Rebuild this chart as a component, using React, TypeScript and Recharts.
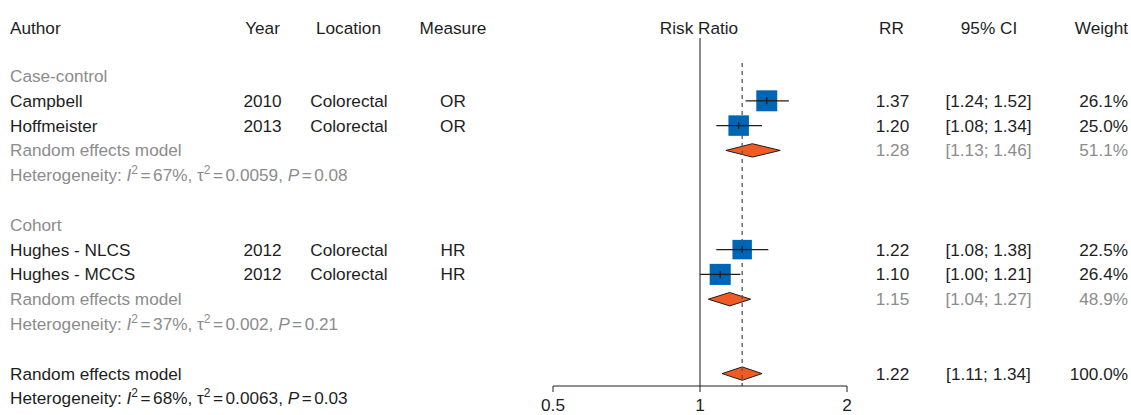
import React from "react";
import {
  ComposedChart,
  XAxis,
  YAxis,
  Scatter,
  ErrorBar,
  Area,
  ReferenceLine,
} from "recharts";

// ---- data ----
const studyAuthors = ["Campbell", "Hoffmeister", "Hughes - NLCS", "Hughes - MCCS"];
const studyYears = ["2010", "2013", "2012", "2012"];
const studyLocations = ["Colorectal", "Colorectal", "Colorectal", "Colorectal"];
const studyMeasures = ["OR", "OR", "HR", "HR"];
const studyRR = [1.37, 1.2, 1.22, 1.1];
const studyLower = [1.24, 1.08, 1.08, 1.0];
const studyUpper = [1.52, 1.34, 1.38, 1.21];
const studyWeight = [26.1, 25.0, 22.5, 26.4];
const studyRows = [3, 4, 9, 10];

const pooledRR = [1.28, 1.15, 1.22];
const pooledLower = [1.13, 1.04, 1.11];
const pooledUpper = [1.46, 1.27, 1.34];
const pooledWeight = ["51.1%", "48.9%", "100.0%"];
const pooledRows = [5, 11, 14];
const pooledGrey = [true, true, false];

const groupNames = ["Case-control", "Cohort"];
const groupRows = [2, 8];

const hetI2 = ["67%", "37%", "68%"];
const hetTau2 = ["0.0059", "0.002", "0.0063"];
const hetP = ["0.08", "0.21", "0.03"];
const hetRows = [6, 12, 15];

const xTicks = [0.5, 1, 2];
const overallRR = 1.22;

// ---- layout ----
const W = 1131;
const H = 415;
const PLOT_TOP = 14;
const ROW_H = 24.8;
const FONT = "'Liberation Sans', Arial, Helvetica, sans-serif";
const FS = 17.2;
const BLACK = "#1e1e1e";
const GREY = "#8c8c8c";
const BLUE = "#0066b3";
const ORANGE = "#f15a22";

const rowCenter = (r: number) => PLOT_TOP + (r + 0.5) * ROW_H;
const fmt = (v: number) => v.toFixed(2);

const studyData = studyRR.map((rr, i) => ({
  x: rr,
  row: studyRows[i],
  weight: studyWeight[i],
  err: [rr - studyLower[i], studyUpper[i] - rr],
}));

const diamonds = pooledRR.map((rr, i) => [
  { x: pooledLower[i], band: [pooledRows[i], pooledRows[i]] },
  { x: rr, band: [pooledRows[i] - 0.27, pooledRows[i] + 0.27] },
  { x: pooledUpper[i], band: [pooledRows[i], pooledRows[i]] },
]);

function Cell({
  row,
  x,
  align = "left",
  color = BLACK,
  dy = 0,
  children,
}: {
  row: number;
  x: number;
  align?: "left" | "center" | "right";
  color?: string;
  dy?: number;
  children: React.ReactNode;
}) {
  const w = 240;
  const left = align === "left" ? x : align === "center" ? x - w / 2 : x - w;
  return (
    <div
      style={{
        position: "absolute",
        left,
        top: rowCenter(row) - 10 + dy,
        width: w,
        height: 20,
        lineHeight: "20px",
        textAlign: align,
        color,
        fontSize: FS,
        fontFamily: FONT,
        whiteSpace: "nowrap",
      }}
    >
      {children}
    </div>
  );
}

const Sup = ({ children }: { children: React.ReactNode }) => (
  <span style={{ fontSize: 12, position: "relative", top: -7 }}>{children}</span>
);

const Eq = () => <span style={{ margin: "0 2.5px" }}>=</span>;

// square sized by weight; the CI line is redrawn across it so it sits on top
function Square(props: any) {
  const { cx, cy, payload } = props;
  const s = 4.1 * Math.sqrt(payload.weight);
  return (
    <g>
      <rect x={cx - s / 2} y={cy - s / 2} width={s} height={s} fill={BLUE} />
      <line x1={cx - s / 2} x2={cx + s / 2} y1={cy} y2={cy} stroke={BLACK} strokeWidth={1.3} />
      <line x1={cx} x2={cx} y1={cy - 3.5} y2={cy + 3.5} stroke={BLACK} strokeWidth={1.3} />
    </g>
  );
}

const NoDot = () => <g />;

export default function App() {
  return (
    <div style={{ position: "absolute", left: 0, top: 0, width: W, height: H, background: "#fff" }}>
      <ComposedChart
        width={W}
        height={H}
        margin={{ top: PLOT_TOP, right: 284, bottom: 0, left: 553 }}
      >
        <XAxis
          type="number"
          dataKey="x"
          scale="log"
          domain={[0.5, 2]}
          ticks={xTicks}
          tickFormatter={(v: number) => String(v)}
          height={H - PLOT_TOP - 15 * ROW_H}
          axisLine={{ stroke: BLACK, strokeWidth: 1 }}
          tickLine={{ stroke: BLACK, strokeWidth: 1 }}
          tickSize={6}
          tickMargin={7}
          tick={{ fill: BLACK, fontSize: FS, fontFamily: FONT }}
          allowDataOverflow
        />
        <YAxis type="number" dataKey="row" domain={[-0.5, 14.5]} reversed hide />
        <ReferenceLine
          segment={[
            { x: 1, y: 0.47 },
            { x: 1, y: 14.5 },
          ]}
          stroke="#666"
          strokeWidth={1.5}
        />
        <ReferenceLine
          segment={[
            { x: overallRR, y: 1.48 },
            { x: overallRR, y: 14.5 },
          ]}
          stroke="#555"
          strokeWidth={1.3}
          strokeDasharray="4 4"
        />
        <Scatter data={studyData} shape={NoDot} isAnimationActive={false}>
          <ErrorBar dataKey="err" direction="x" width={0} stroke={BLACK} strokeWidth={1.3} />
        </Scatter>
        <Scatter data={studyData} shape={Square} isAnimationActive={false} />
        {diamonds.map((d, i) => (
          <Area
            key={i}
            data={d}
            dataKey="band"
            type="linear"
            fill={ORANGE}
            fillOpacity={1}
            stroke={BLACK}
            strokeWidth={1}
            dot={false}
            activeDot={false}
            isAnimationActive={false}
          />
        ))}
      </ComposedChart>

      {/* headers */}
      <Cell row={0} x={10} dy={1.5}>Author</Cell>
      <Cell row={0} x={262.5} align="center" dy={1.5}>Year</Cell>
      <Cell row={0} x={348.5} align="center" dy={1.5}>Location</Cell>
      <Cell row={0} x={453} align="center" dy={1.5}>Measure</Cell>
      <Cell row={0} x={699} align="center" dy={1.5}>Risk Ratio</Cell>
      <Cell row={0} x={891.5} align="center" dy={1.5}>RR</Cell>
      <Cell row={0} x={989} align="center" dy={1.5}>95% CI</Cell>
      <Cell row={0} x={1128} align="right" dy={1.5}>Weight</Cell>

      {groupNames.map((g, i) => (
        <Cell key={g} row={groupRows[i]} x={10} color={GREY}>
          {g}
        </Cell>
      ))}

      {studyAuthors.map((a, i) => (
        <React.Fragment key={a}>
          <Cell row={studyRows[i]} x={10}>{a}</Cell>
          <Cell row={studyRows[i]} x={262.5} align="center">{studyYears[i]}</Cell>
          <Cell row={studyRows[i]} x={349} align="center">{studyLocations[i]}</Cell>
          <Cell row={studyRows[i]} x={453} align="center">{studyMeasures[i]}</Cell>
          <Cell row={studyRows[i]} x={892.5} align="center">{fmt(studyRR[i])}</Cell>
          <Cell row={studyRows[i]} x={988.5} align="center">
            [{fmt(studyLower[i])}; {fmt(studyUpper[i])}]
          </Cell>
          <Cell row={studyRows[i]} x={1128} align="right">{studyWeight[i].toFixed(1)}%</Cell>
        </React.Fragment>
      ))}

      {pooledRR.map((rr, i) => {
        const c = pooledGrey[i] ? GREY : BLACK;
        return (
          <React.Fragment key={i}>
            <Cell row={pooledRows[i]} x={10} color={c}>Random effects model</Cell>
            <Cell row={pooledRows[i]} x={892.5} align="center" color={c}>{fmt(rr)}</Cell>
            <Cell row={pooledRows[i]} x={988.5} align="center" color={c}>
              [{fmt(pooledLower[i])}; {fmt(pooledUpper[i])}]
            </Cell>
            <Cell row={pooledRows[i]} x={1128} align="right" color={c}>{pooledWeight[i]}</Cell>
          </React.Fragment>
        );
      })}

      {hetRows.map((r, i) => (
        <Cell key={r} row={r} x={10} color={pooledGrey[i] ? GREY : BLACK}>
          Heterogeneity: <i>I</i>
          <Sup>2</Sup>
          <Eq />
          {hetI2[i]}, τ<Sup>2</Sup>
          <Eq />
          {hetTau2[i]}, <i>P</i>
          <Eq />
          {hetP[i]}
        </Cell>
      ))}
    </div>
  );
}
